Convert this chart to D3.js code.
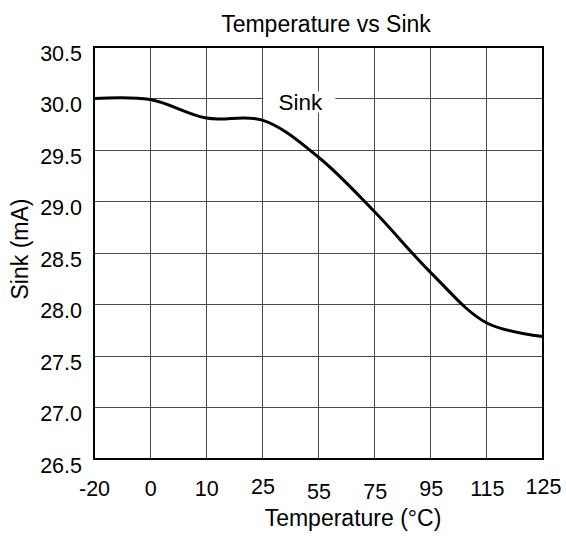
<!DOCTYPE html>
<html>
<head>
<meta charset="utf-8">
<script src="https://cdn.jsdelivr.net/npm/d3@7"></script>
<style>
  html, body { margin: 0; padding: 0; background: #fff; }
  svg { display: block; }
  text { font-family: "Liberation Sans", Arial, sans-serif; fill: #000; }
</style>
</head>
<body>
<svg id="chart" width="566" height="536"></svg>
<script>
// ---- data ----
const temperatures = ["-20", "0", "10", "25", "55", "75", "95", "115", "125"];
const sinkValues = [30.0, 29.99, 29.81, 29.79, 29.43, 28.90, 28.31, 27.82, 27.69];
const yTicks = [26.5, 27.0, 27.5, 28.0, 28.5, 29.0, 29.5, 30.0, 30.5];
const titleText = "Temperature vs Sink";
const xTitle = "Temperature (°C)";
const yTitle = "Sink (mA)";
const seriesLabel = "Sink";

// ---- styling (small vertical nudges of some x tick labels, as in the original) ----
const xLabelNudge = { "25": -2, "125": -2, "55": 2.5, "75": 2.5 };

// ---- layout ----
const plot = { left: 94, right: 543, top: 47, bottom: 459 };
const svg = d3.select("#chart");

const x = d3.scalePoint().domain(temperatures).range([plot.left, plot.right]);
const y = d3.scaleLinear().domain([26.5, 30.5]).range([plot.bottom, plot.top]);

// gridlines
const grid = svg.append("g").attr("stroke", "#4a4a4a").attr("stroke-width", 1).attr("shape-rendering", "crispEdges");
grid.selectAll("line.h").data(yTicks).join("line")
  .attr("x1", plot.left).attr("x2", plot.right)
  .attr("y1", d => y(d)).attr("y2", d => y(d));
grid.selectAll("line.v").data(temperatures).join("line")
  .attr("x1", d => x(d)).attr("x2", d => x(d))
  .attr("y1", plot.top).attr("y2", plot.bottom);

// series label with white box
const lblY = y(30.0);
svg.append("rect")
  .attr("x", x("25") + 1).attr("y", lblY - 7)
  .attr("width", 72).attr("height", 21)
  .attr("fill", "#fff");
svg.append("text")
  .attr("x", x("25") + 38).attr("y", lblY + 11)
  .attr("text-anchor", "middle")
  .style("font-size", "22.5px")
  .text(seriesLabel);

// curve
const line = d3.line()
  .x((d, i) => x(temperatures[i]))
  .y(d => y(d))
  .curve(d3.curveCatmullRom.alpha(0.5));
svg.append("path")
  .datum(sinkValues)
  .attr("d", line)
  .attr("fill", "none")
  .attr("stroke", "#000")
  .attr("stroke-width", 3);

// border
svg.append("rect")
  .attr("x", plot.left).attr("y", plot.top)
  .attr("width", plot.right - plot.left).attr("height", plot.bottom - plot.top)
  .attr("fill", "none").attr("stroke", "#000").attr("stroke-width", 2);

// y tick labels
const yAxis = d3.axisLeft(y).tickValues(yTicks).tickFormat(d3.format(".1f")).tickSize(0).tickPadding(12);
const gy = svg.append("g").attr("transform", `translate(${plot.left},0)`).call(yAxis);
gy.select(".domain").remove();
gy.selectAll("text")
  .attr("dy", "0.62em")
  .style("font-size", "21.5px")
  .style("font-family", "Liberation Sans, Arial, sans-serif")
  .attr("fill", "#000");

// x tick labels
const xAxis = d3.axisBottom(x).tickSize(0).tickPadding(22);
const gx = svg.append("g").attr("transform", `translate(0,${plot.bottom})`).call(xAxis);
gx.select(".domain").remove();
gx.selectAll("text")
  .attr("transform", d => `translate(0,${xLabelNudge[d] || 0})`)
  .style("font-size", "21.5px")
  .style("font-family", "Liberation Sans, Arial, sans-serif")
  .attr("fill", "#000");

// titles
svg.append("text")
  .attr("x", 326).attr("y", 32)
  .attr("text-anchor", "middle")
  .style("font-size", "23px")
  .text(titleText);
svg.append("text")
  .attr("x", 353).attr("y", 526)
  .attr("text-anchor", "middle")
  .style("font-size", "23px")
  .text(xTitle);
svg.append("text")
  .attr("transform", `translate(28,${(plot.top + plot.bottom) / 2 - 4}) rotate(-90)`)
  .attr("text-anchor", "middle")
  .style("font-size", "23px")
  .text(yTitle);
</script>
</body>
</html>
